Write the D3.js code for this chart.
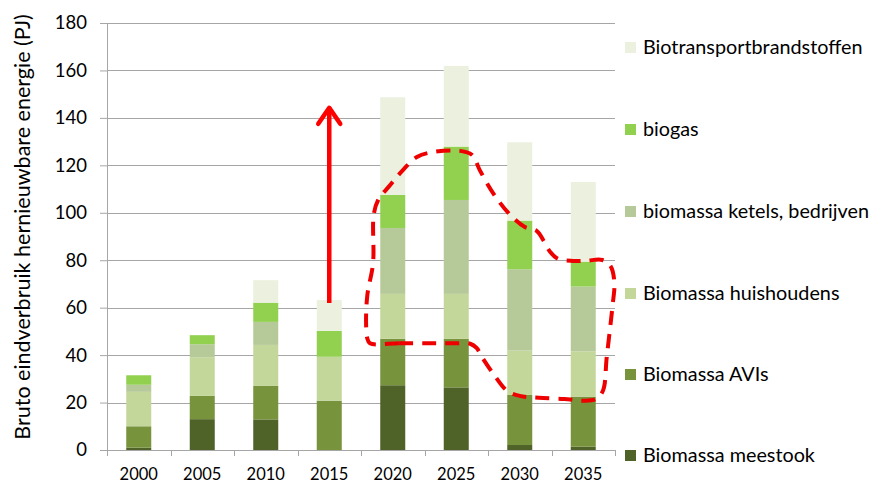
<!DOCTYPE html>
<html><head><meta charset="utf-8">
<script src="https://cdn.jsdelivr.net/npm/d3@7"></script>
<style>body{margin:0;background:#fff}svg text{font-family:Lato,"Open Sans",sans-serif;fill:#000}</style>
</head><body><svg id="c" width="877" height="486"></svg>
<script>
const categories = ["2000","2005","2010","2015","2020","2025","2030","2035"];
const seriesNames = ["Biomassa meestook","Biomassa AVIs","Biomassa huishoudens","biomassa ketels, bedrijven","biogas","Biotransportbrandstoffen"];
const meestook   = [1.0, 13.0, 12.9, 0.0, 27.3, 26.4, 2.1, 1.4];
const avis       = [9.0, 9.8, 14.1, 20.8, 19.6, 20.5, 21.1, 21.1];
const huish      = [14.5, 16.3, 17.3, 18.5, 18.9, 18.9, 18.7, 19.1];
const ketels     = [3.0, 5.5, 9.7, 0.0, 27.8, 39.6, 34.3, 27.3];
const biogas     = [4.0, 3.8, 8.1, 10.9, 13.9, 22.5, 20.5, 10.5];
const transport  = [0.0, 0.0, 9.5, 13.0, 41.2, 34.0, 33.0, 33.6];
const yTicks = [0,20,40,60,80,100,120,140,160,180];
const colors = ["#4f6228","#77933c","#c4d79b","#b6ca99","#92d050","#ebf1de"];
// annotations (category position index, value)
const arrowData = [[3, 62], [3, 145.5]];
const loopData = [[3.64,45.0],[4.1,45.0],[4.6,45.0],[5.0,45.0],[5.22,44.8],[5.32,43.0],[5.42,38.5],[5.6,31.5],[5.80,25.0],[6.0,22.8],[6.3,22.0],[6.7,21.5],[7.0,20.8],[7.2,21.5],[7.31,25.0],[7.37,39.2],[7.46,60.5],[7.49,70.6],[7.43,77.5],[7.3,80.1],[7.05,79.8],[6.84,79.7],[6.6,80.6],[6.48,83.5],[6.38,88.0],[6.27,92.3],[6.08,94.0],[5.85,99.1],[5.58,108.3],[5.37,118.0],[5.25,124.4],[5.06,126.1],[4.63,125.6],[4.38,123.5],[4.16,118.0],[3.96,111.7],[3.77,105.4],[3.70,99.1],[3.69,78.8],[3.60,65.3],[3.58,53.5],[3.60,47.0]];

const svg = d3.select("#c");
const L = 107, R = 615, T = 23, B = 450;
const y = d3.scaleLinear().domain([0,180]).range([B, T]);
const xb = d3.scaleBand().domain(categories).range([L, R]);
const xi = i => xb(categories[0]) + (i + 0.5) * xb.step();

// gridlines
svg.append("g").selectAll("line").data(yTicks.filter(d=>d>0)).join("line")
  .attr("x1", L).attr("x2", R).attr("y1", d=>Math.round(y(d))+0.5).attr("y2", d=>Math.round(y(d))+0.5)
  .attr("stroke", "#a6a6a6").attr("stroke-width", 1);

// y axis
const ya = svg.append("g").attr("transform", `translate(${L},0)`)
  .call(d3.axisLeft(y).tickValues(yTicks).tickSize(7).tickPadding(13));
ya.select(".domain").attr("stroke", "#a6a6a6");
ya.selectAll(".tick line").attr("stroke", "#a6a6a6");
ya.selectAll("text").attr("font-size", 18.5).style("font-family","Lato,sans-serif");

// stacked bars
const rows = categories.map((c,i)=>({cat:c, s0:meestook[i], s1:avis[i], s2:huish[i], s3:ketels[i], s4:biogas[i], s5:transport[i]}));
const stack = d3.stack().keys(["s0","s1","s2","s3","s4","s5"])(rows);
const bw = 25;
svg.append("g").selectAll("g").data(stack).join("g").attr("fill", (d,i)=>colors[i])
  .selectAll("rect").data(d=>d).join("rect")
  .attr("x", d=>xb(d.data.cat) + xb.bandwidth()/2 - bw/2).attr("width", bw)
  .attr("y", d=>y(d[1])).attr("height", d=>y(d[0]) - y(d[1]));

// x axis
svg.append("line").attr("x1", L).attr("x2", R).attr("y1", B+0.5).attr("y2", B+0.5).attr("stroke", "#a6a6a6");
const bounds = d3.range(categories.length + 1).map(i => L + i * xb.step());
svg.append("g").selectAll("line").data(bounds).join("line")
  .attr("x1", d=>Math.round(d)+0.5).attr("x2", d=>Math.round(d)+0.5).attr("y1", B).attr("y2", B+6).attr("stroke", "#a6a6a6");
svg.append("g").selectAll("text").data(categories).join("text")
  .attr("x", d=>xb(d)+xb.bandwidth()/2).attr("y", 480).attr("text-anchor","middle").attr("font-size", 16.5).text(d=>d);

// y title
svg.append("text").attr("transform", `translate(30,227) rotate(-90)`).attr("text-anchor","middle")
  .attr("font-size", 21.5).text("Bruto eindverbruik hernieuwbare energie (PJ)");

// legend
const legY = [47, 129, 211, 293, 374, 455];
const leg = svg.append("g").selectAll("g").data(seriesNames.slice().reverse()).join("g")
  .attr("transform", (d,i)=>`translate(625,${legY[i]})`);
leg.append("rect").attr("x",0).attr("y",-5).attr("width",11).attr("height",11).attr("fill",(d,i)=>colors[5-i]);
leg.append("text").attr("x",18).attr("y",7).attr("font-size",19.8).text(d=>d);

// red arrow
const ax = xi(arrowData[0][0]);
svg.append("line").attr("x1", ax).attr("x2", ax).attr("y1", y(arrowData[0][1])).attr("y2", y(arrowData[1][1])+3)
  .attr("stroke", "#ff0000").attr("stroke-width", 4.5);
svg.append("path").attr("d", `M${ax-11},${y(arrowData[1][1])+19} L${ax},${y(arrowData[1][1])+3} L${ax+11},${y(arrowData[1][1])+19}`)
  .attr("fill","none").attr("stroke","#ff0000").attr("stroke-width",4.5).attr("stroke-linecap","round").attr("stroke-linejoin","round");

// red dashed loop
const loop = d3.line().x(d=>xi(d[0])).y(d=>y(d[1])).curve(d3.curveCatmullRomClosed.alpha(0.5));
svg.append("path").attr("d", loop(loopData)).attr("fill","none").attr("stroke","#ee0000")
  .attr("stroke-width",4).attr("stroke-dasharray","14,9");
</script></body></html>
